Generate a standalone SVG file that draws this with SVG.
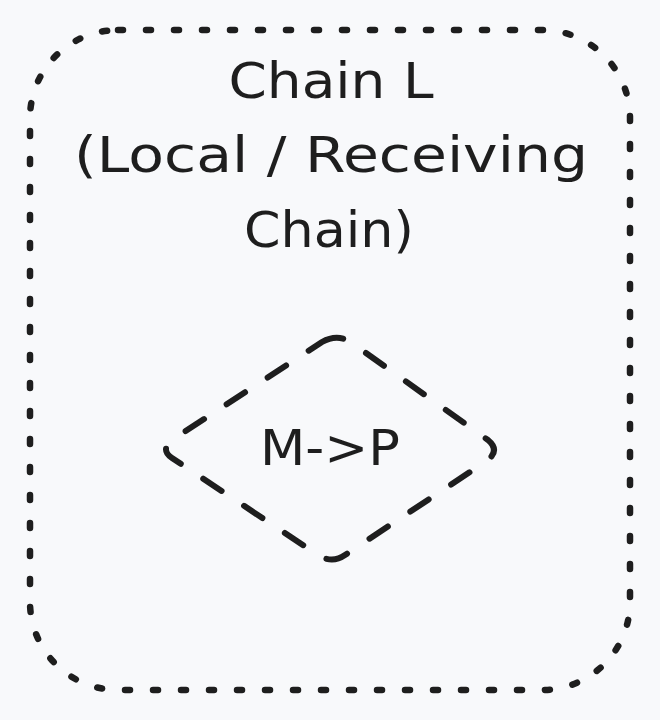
<svg xmlns="http://www.w3.org/2000/svg" width="660" height="720" viewBox="0 0 660 720">
  <style>
    .bg { fill: #f8f9fb; }
    .dotted { fill: none; stroke: #1e1e1e; stroke-width: 6.5; stroke-linecap: round; stroke-dasharray: 5 23; }
    .dashed { fill: none; stroke: #1e1e1e; stroke-width: 6; stroke-linecap: round; stroke-linejoin: round; stroke-dasharray: 22 27; }
    .label { font-family: "DejaVu Sans", "Liberation Sans", sans-serif; font-size: 50px; fill: #1e1e1e; text-anchor: middle; }
  </style>
  <rect class="bg" x="0" y="0" width="660" height="720"/>
  <g id="chain-l">
    <rect class="dotted" x="30" y="30" width="600" height="660" rx="88" ry="88"/>
    <text class="label" x="331" y="98" textLength="205" lengthAdjust="spacingAndGlyphs">Chain L</text>
    <text class="label" x="331" y="172" textLength="514" lengthAdjust="spacingAndGlyphs">(Local / Receiving</text>
    <text class="label" x="329" y="247" textLength="170" lengthAdjust="spacingAndGlyphs">Chain)</text>
  </g>
  <g id="m-to-p">
    <path class="dashed" d="M 322 342 Q 338 333 352 343 L 488 440 Q 500 450 488 460 L 345 555 Q 332 564 318 555 L 172 458 Q 160 450 172 440 Z"/>
    <text class="label" x="330" y="465" textLength="140" lengthAdjust="spacingAndGlyphs">M-&gt;P</text>
  </g>
  <g id="connectors"></g>
</svg>
